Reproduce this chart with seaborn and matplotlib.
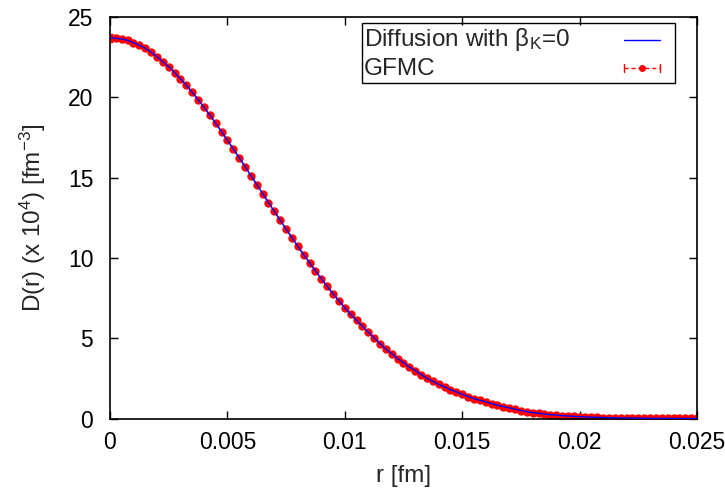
import numpy as np
import pandas as pd
import seaborn as sns
import matplotlib.pyplot as plt
from matplotlib.ticker import FormatStrFormatter

# r grid (fm), 101 points at 0.00025 spacing
r_fm = np.arange(101) * 0.00025

# D(r) x 10^4
d_vals = [23.70, 23.68, 23.63, 23.55, 23.40, 23.24, 23.05, 22.82, 22.53, 22.22,
          21.91, 21.54, 21.16, 20.75, 20.32, 19.86, 19.38, 18.90, 18.39, 17.87,
          17.33, 16.79, 16.25, 15.69, 15.13, 14.57, 14.01, 13.45, 12.90, 12.35,
          11.80, 11.26, 10.72, 10.20, 9.70, 9.20, 8.71, 8.23, 7.77, 7.34,
          6.90, 6.49, 6.11, 5.75, 5.38, 5.02, 4.67, 4.33, 4.04, 3.73,
          3.48, 3.21, 2.99, 2.74, 2.51, 2.32, 2.13, 1.97, 1.80, 1.66,
          1.51, 1.37, 1.24, 1.14, 1.04, 0.93, 0.83, 0.75, 0.67, 0.58,
          0.50, 0.43, 0.37, 0.33, 0.28, 0.24, 0.22, 0.18, 0.16, 0.14,
          0.11, 0.10, 0.085, 0.075, 0.065, 0.055, 0.047, 0.040, 0.034, 0.029,
          0.025, 0.021, 0.018, 0.015, 0.013, 0.011, 0.009, 0.008, 0.007, 0.006,
          0.005]
# GFMC error bars (only the first is really visible)
d_err = [0.25] + [0.05] * 100

xticks = [0, 0.005, 0.01, 0.015, 0.02, 0.025]
yticks = [0, 5, 10, 15, 20, 25]

df = pd.DataFrame({"r": r_fm, "D": d_vals})

sns.set_style("ticks")
plt.rcParams['font.family'] = ['Liberation Sans', 'DejaVu Sans']
plt.rcParams['mathtext.fontset'] = 'custom'
plt.rcParams['mathtext.rm'] = 'Liberation Sans'
plt.rcParams['mathtext.it'] = 'Liberation Sans'

tick_fs = 16.5
lab_fs = 17.5
leg_fs = 17.5

fig = plt.figure(figsize=(7.25, 4.93), dpi=100)
ax = fig.add_axes([0.1517, 0.151, 0.8097, 0.8145])

# GFMC with error bars, red dashed + dots
ax.errorbar(df["r"], df["D"], yerr=d_err, color='#ff0000', ls=(0, (3, 2)), lw=1,
            marker='o', ms=5, capsize=2.5, elinewidth=1, zorder=2)
# diffusion curve, blue line
sns.lineplot(data=df, x="r", y="D", ax=ax, color='#0000ff', lw=1, zorder=3)

ax.set_xlim(0, 0.025)
ax.set_ylim(0, 25)
ax.set_xticks(xticks)
ax.set_yticks(yticks)
ax.xaxis.set_major_formatter(FormatStrFormatter('%g'))
ax.tick_params(direction='in', top=True, right=True, length=6, width=1,
               labelsize=tick_fs, colors='black')
ax.tick_params(axis='x', pad=9)
ax.tick_params(axis='y', pad=12)
for s in ax.spines.values():
    s.set_visible(True)
    s.set_linewidth(1.2)
    s.set_color('black')
ax.set_xlabel("r [fm]", fontsize=lab_fs, labelpad=8)
ax.set_ylabel(r"D(r) (x 10$^4$) [fm$^{-3}$]", fontsize=lab_fs, labelpad=14)

# legend drawn by hand, gnuplot-style (text left, sample right)
T = ax.transAxes
ax.add_patch(plt.Rectangle((0.429, 0.836), 0.5335, 0.149, transform=T, fill=False,
                           ec='black', lw=1, zorder=5))
ax.text(0.432, 0.943, r"Diffusion with $\mathrm{\beta_K}$=0", transform=T,
        va='center', ha='left', fontsize=leg_fs, zorder=6)
ax.text(0.432, 0.871, "GFMC", transform=T, va='center', ha='left',
        fontsize=leg_fs, zorder=6)
ax.plot([0.876, 0.937], [0.943, 0.943], transform=T, color='#0000ff', lw=1, zorder=6)
ax.plot([0.876, 0.937], [0.873, 0.873], transform=T, color='#ff0000', lw=1,
        ls=(0, (3, 2)), zorder=6)
ax.plot([0.9065], [0.873], transform=T, color='#ff0000', marker='o', ms=4, zorder=6)
for xe in [0.876, 0.937]:
    ax.plot([xe, xe], [0.862, 0.884], transform=T, color='#ff0000', lw=1, zorder=6)

fig.savefig("out.png", dpi=100)
